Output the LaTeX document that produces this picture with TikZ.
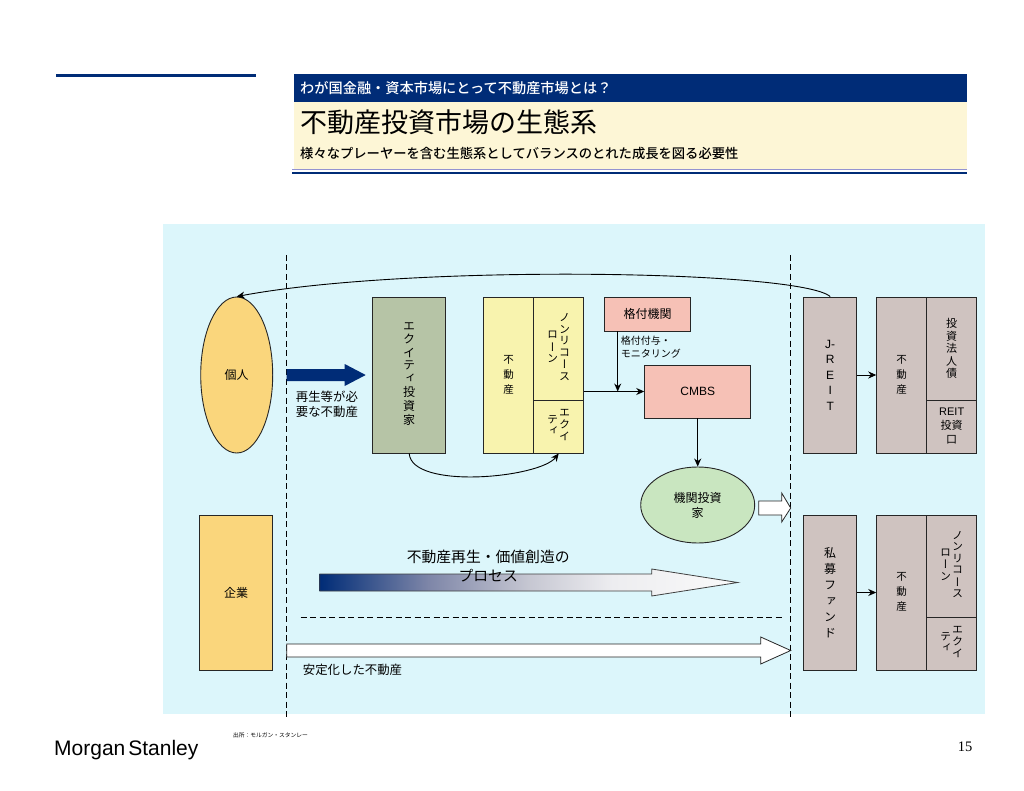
\documentclass[tikz,border=0pt]{standalone}
\usepackage{fontspec}
\setmainfont[BoldFont={Noto Sans CJK JP Medium}]{Noto Sans CJK JP}
\newfontfamily\tatefont[RawFeature=+vert]{Noto Sans CJK JP}
\newfontfamily\arialfont{Liberation Sans}
\newfontfamily\timesfont{Liberation Serif}
\usetikzlibrary{shapes.geometric, arrows.meta, positioning}

\definecolor{navy}{HTML}{002C77}
\definecolor{cream}{HTML}{FDF6D6}
\definecolor{skybg}{HTML}{DCF6FB}
\definecolor{sandy}{HTML}{FAD67C}
\definecolor{sage}{HTML}{B6C4A6}
\definecolor{lemon}{HTML}{F8F3AE}
\definecolor{salmon}{HTML}{F6C1B6}
\definecolor{mint}{HTML}{C9E6C0}
\definecolor{taupe}{HTML}{CFC3C0}
\definecolor{fadeone}{HTML}{7E86A8}
\definecolor{fadetwo}{HTML}{C6C7D2}
\definecolor{fadethree}{HTML}{EDEDF0}
\definecolor{fadefour}{HTML}{FAFAFA}

\pgfdeclarehorizontalshading{processfade}{100bp}{color(0bp)=(navy); color(25bp)=(navy); color(38bp)=(fadeone); color(50bp)=(fadetwo); color(60bp)=(fadethree); color(75bp)=(fadefour); color(100bp)=(fadefour)}

\newcommand{\fsz}[2]{\fontsize{#1}{#2}\selectfont}
\newcommand{\vcol}[1]{\raisebox{-2pt}{\begin{tabular}{@{}c@{}}#1\end{tabular}}}

\tikzset{
	cellbox/.style={draw=black!85, line width=0.9pt, inner sep=0pt, align=center, font=\tatefont\fsz{11}{11.6}},
	link/.style={-{Stealth[length=8pt, width=7pt]}, line width=0.9pt},
	divider/.style={dashed, dash pattern=on 6pt off 3.5pt, line width=0.9pt},
	blockarrow/.style={draw=black!85, line width=0.8pt, fill=white},
	caption/.style={inner sep=0pt, align=left, font=\fsz{12.4}{15}}
}

\begin{document}
\begin{tikzpicture}[x=1pt, y=-1pt]
	\useasboundingbox (0,0) rectangle (1024,791);

	% Header
	\draw[navy, line width=2.5pt] (56,75.5) -- (256,75.5);
	\fill[cream] (294,102) rectangle (967,169);
	\fill[navy] (294,74) rectangle (967,102);
	\draw[blue!40!gray!60, line width=0.8pt] (292,169.5) -- (967,169.5);
	\draw[navy, line width=2.6pt] (292,173) -- (967,173);
	\node[anchor=west, inner sep=0pt, text=white, font=\bfseries\fsz{14.2}{15}] (kicker) at (300,88) {わが国金融・資本市場にとって不動産市場とは？};
	\node[anchor=west, inner sep=0pt, font=\fsz{27}{28}] (headline) at (300,122) {不動産投資市場の生態系};
	\node[anchor=west, inner sep=0pt, font=\bfseries\fsz{13.3}{15}] (subline) at (300,153) {様々なプレーヤーを含む生態系としてバランスのとれた成長を図る必要性};

	% Background
	\fill[skybg] (163,224) rectangle (985,714);

	\begin{scope}[xshift=-0.3pt]
	% Borders
	\draw[divider] (287,255) -- (287,718);
	\draw[divider] (791,255) -- (791,718);
	\draw[divider] (301,617) -- (785,617);

	% Left side
	\node[draw=black!85, line width=0.9pt, fill=sandy, ellipse, minimum width=72pt, minimum height=156pt, inner sep=0pt, font=\fsz{12}{14}] (person) at (237,375) {\raisebox{-1.5pt}{個人}};
	\node[cellbox, fill=sandy, minimum width=73pt, minimum height=155pt, font=\fsz{12}{14}] (company) at (236.5,592.5) {\raisebox{-1pt}{企業}};

	\fill[navy] (287,369) -- (345,369) -- (345,364) -- (366,375) -- (345,386) -- (345,381) -- (287,381) -- cycle;
	\node[caption, anchor=north west] (needlabel) at (296,391) {再生等が必\\要な不動産};

	\node[cellbox, fill=sage, minimum width=73pt, minimum height=156pt, font=\tatefont\fsz{12}{12.9}] (equityinv) at (409.5,375) {\vcol{エ\\ク\\イ\\テ\\ィ\\投\\資\\家}};

	% Yellow property
	\node[cellbox, fill=lemon, minimum width=50pt, minimum height=156pt, font=\tatefont\fsz{10.5}{15}] (prop) at (509,375) {\vcol{不\\動\\産}};
	\node[cellbox, fill=lemon, minimum width=50pt, minimum height=103pt] (nonrec) at (559,348.5) {\vcol{ロ\\ー\\ン}\hspace{1pt}\vcol{ノ\\ン\\リ\\コ\\ー\\ス}};
	\node[cellbox, fill=lemon, minimum width=50pt, minimum height=53pt] (equity) at (559,426.5) {\vcol{テ\\ィ}\hspace{1pt}\vcol{エ\\ク\\イ}};

	% Rating and CMBS
	\node[cellbox, fill=salmon, minimum width=86pt, minimum height=34pt, font=\fsz{12}{14}] (rating) at (648,314) {\raisebox{-0.5pt}{格付機関}};
	\node[cellbox, fill=salmon, minimum width=106pt, minimum height=53pt, font=\arialfont\fsz{12}{14}] (cmbs) at (698,391.5) {CMBS};
	\node[draw=black!85, line width=0.9pt, fill=mint, ellipse, minimum width=114pt, minimum height=76pt, inner sep=0pt, align=center, font=\fsz{12}{15}] (instinv) at (698,505) {機関投資\\家};
	\node[caption, anchor=north west, font=\fsz{10}{13}] (ratelabel) at (621,336) {格付付与・\\モニタリング};

	\coordinate (joint) at (rating.south -| 618,0);
	\coordinate (feed) at (nonrec.east |- cmbs.west);
	\draw[link] (feed) -- (cmbs.west);
	\draw[link] (joint) -- (joint |- cmbs.west);
	\draw[link] (cmbs.south) -- (instinv.north);
	\draw[-{Stealth[length=8pt, width=7pt]}, line width=0.9pt] (equityinv.south) .. controls (412,490) and (540,478) .. (equity.south);

	\draw[blockarrow] (759,501) -- (782,501) -- (782,493) -- (791,508) -- (782,522) -- (782,515) -- (759,515) -- cycle;

	% Process arrows
	\draw[draw=black!75, line width=0.8pt, shading=processfade] (320,574) -- (652,574) -- (652,569) -- (738,582.5) -- (652,596) -- (652,591) -- (320,591) -- cycle;
	\node[align=center, inner sep=0pt, font=\fsz{14.8}{19}] (processlabel) at (488.5,566) {不動産再生・価値創造の\\プロセス};
	\draw[blockarrow] (287,644) -- (761,644) -- (761,637) -- (791,650.5) -- (761,664) -- (761,657) -- (287,657) -- cycle;
	\node[caption, anchor=west] (stablelabel) at (303,670) {安定化した不動産};

	% Right side, upper row
	\node[cellbox, fill=taupe, minimum width=53pt, minimum height=156pt, font=\arialfont\fsz{12}{15.5}] (jreit) at (830.5,375) {J-\\R\\E\\I\\T};
	\node[cellbox, fill=taupe, minimum width=50pt, minimum height=156pt, font=\tatefont\fsz{10.5}{15}] (propa) at (902,375) {\vcol{不\\動\\産}};
	\node[cellbox, fill=taupe, minimum width=50pt, minimum height=103pt, font=\tatefont\fsz{11}{12.5}] (bond) at (952,348.5) {投\\資\\法\\人\\債};
	\node[cellbox, fill=taupe, minimum width=50pt, minimum height=53pt, font=\fsz{11}{14}] (unit) at (952,426.5) {\raisebox{-1pt}{\begin{tabular}{@{}c@{}}{\arialfont REIT}\\投資\\口\end{tabular}}};
	\draw[link] (jreit.east) -- (propa.west);

	% Right side, lower row
	\node[cellbox, fill=taupe, minimum width=53pt, minimum height=155pt, font=\tatefont\fsz{12}{16}] (fund) at (830.5,592.5) {私\\募\\フ\\ァ\\ン\\ド};
	\node[cellbox, fill=taupe, minimum width=50pt, minimum height=155pt, font=\tatefont\fsz{10.5}{15}] (propb) at (902,592.5) {\vcol{不\\動\\産}};
	\node[cellbox, fill=taupe, minimum width=50pt, minimum height=102pt] (nonrecb) at (952,566) {\vcol{ロ\\ー\\ン}\hspace{1pt}\vcol{ノ\\ン\\リ\\コ\\ー\\ス}};
	\node[cellbox, fill=taupe, minimum width=50pt, minimum height=53pt] (equityb) at (952,643.5) {\vcol{テ\\ィ}\hspace{1pt}\vcol{エ\\ク\\イ}};
	\draw[link] (fund.east) -- (propb.west);

	% Return flow
	\draw[link] (jreit.north) .. controls (800,270) and (410,264) .. (person.north);
	\end{scope}

	% Footer
	\node[anchor=west, inner sep=0pt, font=\fsz{5.75}{7}] (source) at (233,735) {出所：モルガン・スタンレー};
	\node[anchor=west, inner sep=0pt, font=\arialfont\fsz{21}{24}] (brand) at (54,750) {Morgan\hspace{3pt}Stanley};
	\node[inner sep=0pt, font=\timesfont\fsz{14.5}{16}] (pageno) at (965,747) {15};
\end{tikzpicture}
\end{document}
